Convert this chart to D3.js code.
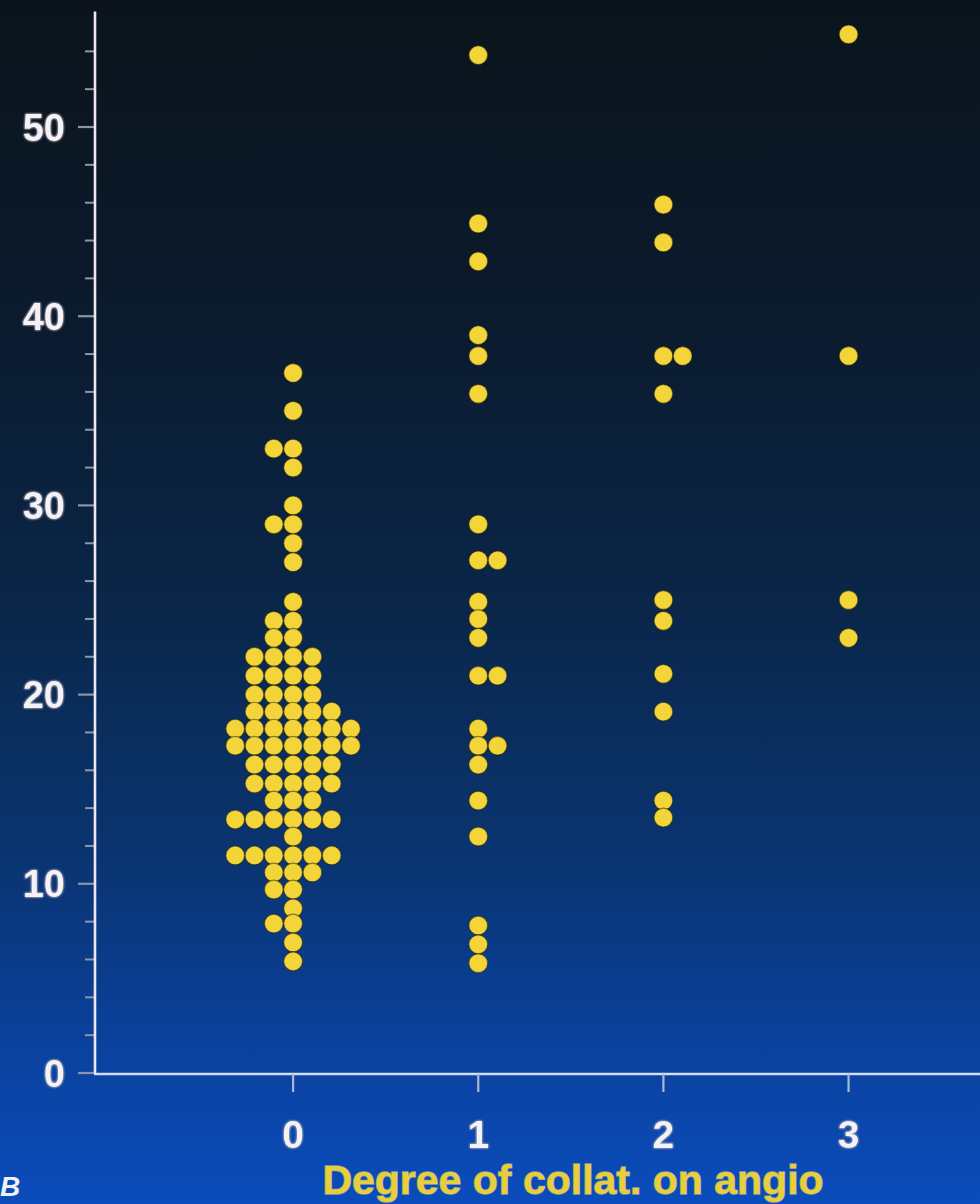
<!DOCTYPE html>
<html>
<head>
<meta charset="utf-8">
<script src="https://cdn.jsdelivr.net/npm/d3@7"></script>
<style>
  html, body { margin: 0; padding: 0; background: #0b1520; }
  svg { display: block; }
</style>
</head>
<body>
<div id="chart"></div>
<script>
// Degree of collaterals on angiography (x) vs measured value (y), one list per group
const categories = [0, 1, 2, 3];

const collat0 = [
  37, 35, 33, 33, 32, 30, 29, 29, 28, 27,
  24.9, 23.9, 23.9, 23, 23,
  22, 22, 22, 22,
  21, 21, 21, 21,
  20, 20, 20, 20,
  19.1, 19.1, 19.1, 19.1, 19.1,
  18.2, 18.2, 18.2, 18.2, 18.2, 18.2, 18.2,
  17.3, 17.3, 17.3, 17.3, 17.3, 17.3, 17.3,
  16.3, 16.3, 16.3, 16.3, 16.3,
  15.3, 15.3, 15.3, 15.3, 15.3,
  14.4, 14.4, 14.4,
  13.4, 13.4, 13.4, 13.4, 13.4, 13.4,
  12.5,
  11.5, 11.5, 11.5, 11.5, 11.5, 11.5,
  10.6, 10.6, 10.6,
  9.7, 9.7,
  8.7,
  7.9, 7.9,
  6.9,
  5.9
];
const collat1 = [
  53.8, 44.9, 42.9, 39, 37.9, 35.9, 29, 27.1, 27.1, 24.9, 24, 23,
  21, 21, 18.2, 17.3, 17.3, 16.3, 14.4, 12.5, 7.8, 6.8, 5.8
];
const collat2 = [45.9, 43.9, 37.9, 37.9, 35.9, 25, 23.9, 21.1, 19.1, 14.4, 13.5];
const collat3 = [54.9, 37.9, 25, 23];

const groups = [collat0, collat1, collat2, collat3];
// which side a row with an even count leans to
const dodgeSide = [-1, 1, 1, 1];

const yTicks = [0, 10, 20, 30, 40, 50];
const yMinorTicks = d3.range(0, 56, 2);
const xTitle = 'Degree of collat. on angio';

const W = 980, H = 1204;
const r = 9.4;
const colStep = 19.3;
const FONT = 'Liberation Sans, Arial, sans-serif';

const x = d3.scaleLinear().domain([-1.07, 3.71]).range([95, 980]);
const y = d3.scaleLinear().domain([0, 56]).range([1073, 13.5]);

const svg = d3.select('#chart').append('svg')
  .attr('width', W).attr('height', H)
  .attr('viewBox', `0 0 ${W} ${H}`);

// ── Background gradient ─────────────────────────────────────────────
const defs = svg.append('defs');
const grad = defs.append('linearGradient')
  .attr('id', 'bg').attr('x1', 0).attr('y1', 0).attr('x2', 0).attr('y2', 1);
[['0%', '#0b141c'], ['25%', '#0b1a2c'], ['50%', '#0a2648'], ['72%', '#0a3573'],
 ['88%', '#0a42a0'], ['100%', '#0b4cbc']]
  .forEach(([o, c]) => grad.append('stop').attr('offset', o).attr('stop-color', c));

const glow = defs.append('filter').attr('id', 'glow')
  .attr('x', '-20%').attr('y', '-20%').attr('width', '140%').attr('height', '140%');
glow.append('feGaussianBlur').attr('in', 'SourceGraphic').attr('stdDeviation', 1.2).attr('result', 'b');
const gm = glow.append('feMerge');
gm.append('feMergeNode').attr('in', 'b');
gm.append('feMergeNode').attr('in', 'SourceGraphic');

svg.append('rect').attr('width', W).attr('height', H).attr('fill', 'url(#bg)');

// ── Y axis ──────────────────────────────────────────────────────────
const yAxisG = svg.append('g').attr('transform', `translate(${x.range()[0]},0)`);

yAxisG.selectAll('line.minor')
  .data(yMinorTicks.filter(v => !yTicks.includes(v)))
  .join('line')
  .attr('class', 'minor')
  .attr('x1', -10).attr('x2', 0)
  .attr('y1', d => y(d)).attr('y2', d => y(d))
  .attr('stroke', '#8c97aa').attr('stroke-width', 2);

yAxisG.selectAll('line.major')
  .data(yTicks)
  .join('line')
  .attr('class', 'major')
  .attr('x1', -17).attr('x2', 0)
  .attr('y1', d => y(d)).attr('y2', d => y(d))
  .attr('stroke', '#8a96a8').attr('stroke-width', 2.2);

yAxisG.append('line')
  .attr('x1', 0).attr('x2', 0)
  .attr('y1', y(0) + 1).attr('y2', y.range()[1] - 2)
  .attr('stroke', '#efe6f2').attr('stroke-width', 2.6);

yAxisG.selectAll('text')
  .data(yTicks)
  .join('text')
  .attr('x', -30).attr('y', d => y(d))
  .attr('dy', '0.36em')
  .attr('text-anchor', 'end')
  .attr('font-family', FONT)
  .attr('font-weight', 'bold')
  .attr('font-size', 38)
  .attr('fill', '#f4f2f6')
  .attr('stroke', '#1a1a2a').attr('stroke-width', 1).attr('stroke-opacity', 0.6)
  .attr('paint-order', 'stroke')
  .attr('filter', 'url(#glow)')
  .text(d => d);

// ── X axis ──────────────────────────────────────────────────────────
const xAxisG = svg.append('g').attr('transform', `translate(0,${y(0)})`);

xAxisG.append('line')
  .attr('x1', x.range()[0] - 1).attr('x2', W)
  .attr('y1', 1).attr('y2', 1)
  .attr('stroke', '#d4def2').attr('stroke-width', 2.6);

xAxisG.selectAll('line.tick')
  .data(categories)
  .join('line')
  .attr('class', 'tick')
  .attr('x1', d => x(d)).attr('x2', d => x(d))
  .attr('y1', 1).attr('y2', 19)
  .attr('stroke', '#a9b8d6').attr('stroke-width', 2.2);

xAxisG.selectAll('text')
  .data(categories)
  .join('text')
  .attr('x', d => x(d)).attr('y', 75)
  .attr('text-anchor', 'middle')
  .attr('font-family', FONT)
  .attr('font-weight', 'bold')
  .attr('font-size', 39)
  .attr('fill', '#f2f2f8')
  .attr('stroke', '#1a1a2a').attr('stroke-width', 1).attr('stroke-opacity', 0.6)
  .attr('paint-order', 'stroke')
  .attr('filter', 'url(#glow)')
  .text(d => d);

svg.append('text')
  .attr('x', 573).attr('y', 1194)
  .attr('text-anchor', 'middle')
  .attr('font-family', FONT)
  .attr('font-weight', 'bold')
  .attr('font-size', 41)
  .attr('fill', '#e8cf3a')
  .attr('stroke', '#c9c4a0').attr('stroke-width', 1.4).attr('stroke-opacity', 0.7)
  .attr('paint-order', 'stroke')
  .text(xTitle);

// panel letter at the left edge
svg.append('text')
  .attr('x', 0).attr('y', 1196)
  .attr('font-family', FONT)
  .attr('font-size', 28).attr('font-style', 'italic').attr('font-weight', 'bold')
  .attr('fill', '#f0f0f6')
  .text('B');

// ── Dots (dot-plot: equal values side by side) ───────────────────────
const points = groups.flatMap((vals, gi) => {
  const rows = d3.group(vals, v => v);
  return [...rows.entries()].flatMap(([v, arr]) => {
    const n = arr.length;
    const start = dodgeSide[gi] < 0 ? -Math.floor(n / 2) : -Math.floor((n - 1) / 2);
    return arr.map((_, i) => ({ cat: categories[gi], value: v, col: start + i }));
  });
});

svg.append('g')
  .selectAll('circle')
  .data(points)
  .join('circle')
  .attr('cx', d => x(d.cat) + d.col * colStep)
  .attr('cy', d => y(d.value))
  .attr('r', r)
  .attr('fill', '#f3d53a')
  .attr('stroke', '#2a2410')
  .attr('stroke-opacity', 0.55)
  .attr('stroke-width', 1.2);
</script>
</body>
</html>
